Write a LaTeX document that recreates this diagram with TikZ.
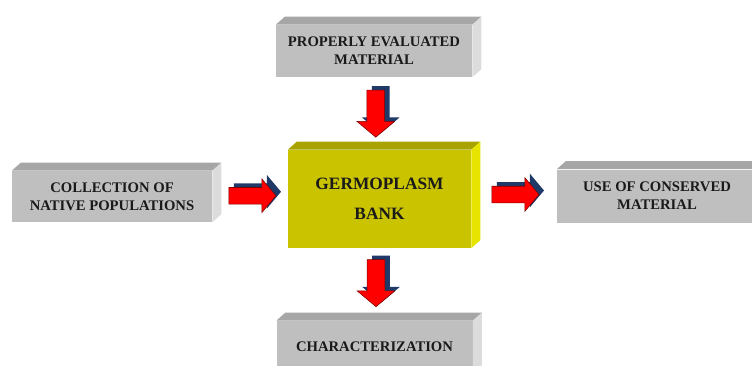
\documentclass[tikz,border=0pt]{standalone}
\usepackage{fontspec}
\setmainfont{Liberation Serif}
\usepackage{tikz}
\usetikzlibrary{calc,shapes.arrows,shadows}
\definecolor{boxfront}{HTML}{BFBFBF}
\definecolor{boxtop}{HTML}{A6A6A6}
\definecolor{boxside}{HTML}{DCDCDC}
\definecolor{bankfront}{HTML}{C9C300}
\definecolor{banktop}{HTML}{A8A300}
\definecolor{bankside}{HTML}{E6E400}
\definecolor{arrowred}{HTML}{FF0000}
\definecolor{arrowedge}{HTML}{7A0000}
\definecolor{arrowshade}{HTML}{1F3A68}
\definecolor{textdark}{HTML}{1A1A1A}
\tikzset{
  panel/.style={fill=boxfront, inner sep=0pt, align=center, text=textdark,
    font=\fontsize{11}{13.5}\selectfont\bfseries},
  bankpanel/.style={panel, fill=bankfront, font=\fontsize{13}{22.5}\selectfont\bfseries},
  blockarrow/.style={single arrow, draw=arrowedge, fill=arrowred, line width=0.4pt,
    minimum height=35.25pt, single arrow tip angle=100,
    general shadow={fill=arrowshade, shadow xshift=3.75pt, shadow yshift=3pt}},
  sidearrow/.style={blockarrow, inner sep=6pt, single arrow head extend=6.4pt},
  downarrow/.style={blockarrow, inner sep=6.4pt, single arrow head extend=7.5pt,
    shape border rotate=270}
}

\begin{document}
\begin{tikzpicture}[x=0.75pt,y=-0.75pt]
\useasboundingbox (0,0) rectangle (752,365);
\clip (0,0) rectangle (752,365);
% boxes
\node[panel, minimum width=147pt, minimum height=39pt] (eval) at (374,51)
  {PROPERLY EVALUATED\\MATERIAL};
\node[panel, minimum width=150pt, minimum height=38.25pt] (coll) at (112,196.5)
  {COLLECTION OF\\NATIVE POPULATIONS};
\node[bankpanel, minimum width=137.25pt, minimum height=73.5pt] (bank) at (379.5,199)
  {GERMOPLASM\\BANK};
\node[panel, minimum width=150pt, minimum height=39.75pt] (use) at (657,196)
  {USE OF CONSERVED\\MATERIAL};
\node[panel, minimum width=147pt, minimum height=39pt] (charac) at (374.5,347)
  {CHARACTERIZATION};
% bevels
\foreach \n/\t/\s in {eval/boxtop/boxside,coll/boxtop/boxside,use/boxtop/boxside,
  charac/boxtop/boxside,bank/banktop/bankside}
{
  \fill[\t] (\n.north west) -- ([shift={(9,-8)}]\n.north west)
    -- ([shift={(9,-8)}]\n.north east) -- (\n.north east) -- cycle;
  \fill[\s] (\n.north east) -- ([shift={(9,-8)}]\n.north east)
    -- ([shift={(9,-8)}]\n.south east) -- (\n.south east) -- cycle;
}
% arrows
\node[sidearrow] (a1) at ($(coll.east)!0.5!(bank.west)+(-1,-2)$) {};
\node[sidearrow] (a2) at ($(bank.east)!0.5!(use.west)+(-2,-3)$) {};
\node[downarrow] (a3) at ($(eval.south)!0.5!(bank.north)+(-1,-3.5)$) {};
\node[downarrow] (a4) at ($(bank.south)!0.5!(charac.north)+(-1,-5)$) {};
\end{tikzpicture}
\end{document}
